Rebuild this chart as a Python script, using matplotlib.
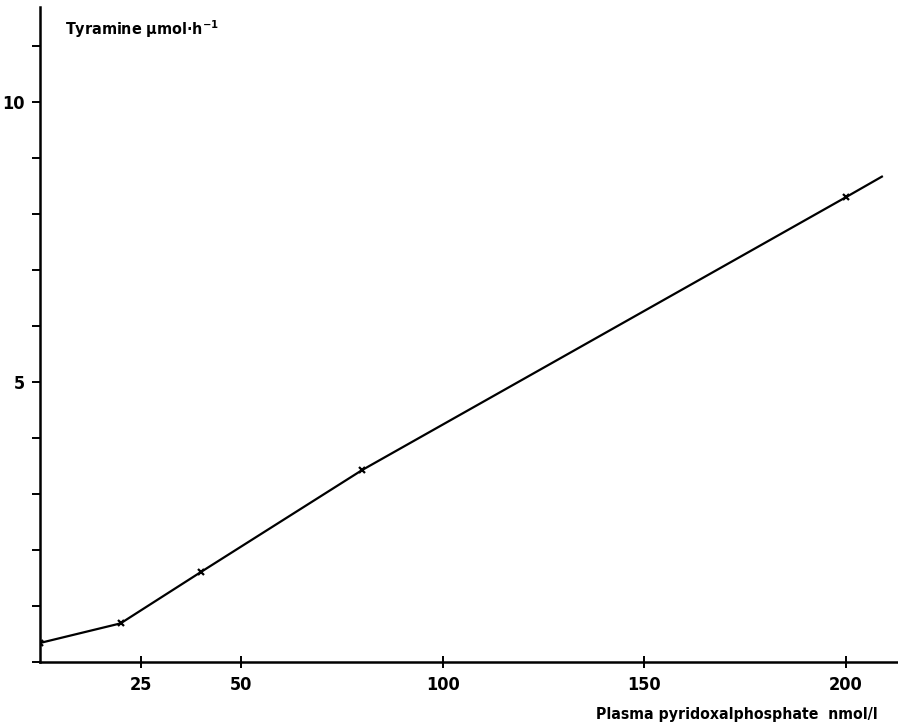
import matplotlib
matplotlib.use("Agg")
import matplotlib.pyplot as plt
from matplotlib.ticker import MultipleLocator

# values
plp = [0, 20, 40, 80, 200]
tyramine = [0.34, 0.69, 1.61, 3.43, 8.30]
# line continues a bit past the last point, without a marker
line_end_x = 209
line_end_y = 8.67

x_ticks = [25, 50, 100, 150, 200]
y_ticks = [5, 10]

plt.rcParams["font.family"] = ["DejaVu Sans Condensed", "DejaVu Sans"]
plt.rcParams["font.stretch"] = "condensed"
plt.rcParams["font.weight"] = "bold"

fig = plt.figure(figsize=(8.98, 7.24), dpi=100)
ax = fig.add_axes([40 / 898, 62 / 724, 858 / 898, 655 / 724])

ax.plot(plp + [line_end_x], tyramine + [line_end_y], color="black", lw=1.6)
ax.plot(plp, tyramine, ls="none", marker="x", color="black", ms=5, mew=1.6)

ax.set_xlim(0, 213)
ax.set_ylim(0, 11.7)

for side in ["top", "right"]:
    ax.spines[side].set_visible(False)
for side in ["left", "bottom"]:
    ax.spines[side].set_linewidth(1.8)

ax.set_xticks(x_ticks)
ax.set_xticklabels([str(t) for t in x_ticks], fontsize=13, fontweight="bold")
ax.set_yticks(y_ticks)
ax.set_yticklabels([str(t) for t in y_ticks], fontsize=13, fontweight="bold")
ax.yaxis.set_minor_locator(MultipleLocator(1))

ax.tick_params(axis="y", which="both", direction="out", length=6, width=1.4, pad=5)
ax.tick_params(axis="x", which="major", direction="inout", length=8, width=1.4, pad=6)

fig.text(65 / 898, 1 - 29 / 724, "Tyramine µmol·h$^{-1}$", fontsize=11.5,
         fontweight="bold", va="center", ha="left")
fig.text(878 / 898, 1 - 714 / 724, "Plasma pyridoxalphosphate  nmol/l",
         fontsize=11.3, fontweight="bold", va="center", ha="right")

fig.savefig("out.png", dpi=100)
